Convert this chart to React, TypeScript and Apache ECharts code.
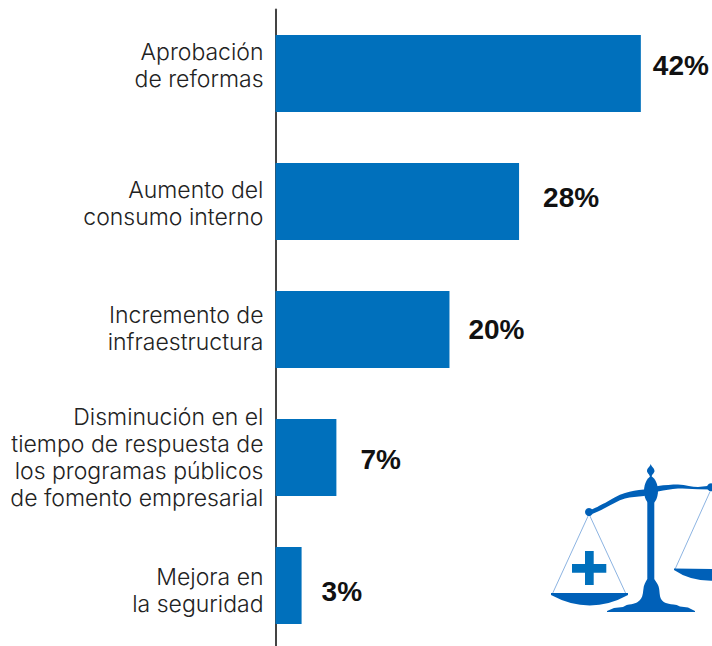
import React, { useEffect, useRef } from "react";
import * as echarts from "echarts";

const categories = [
  ["Aprobación", "de reformas"],
  ["Aumento del", "consumo interno"],
  ["Incremento de", "infraestructura"],
  ["Disminución en el", "tiempo de respuesta de", "los programas públicos", "de fomento empresarial"],
  ["Mejora en", "la seguridad"],
];
const values = [42, 28, 20, 7, 3];
const valueLabelGaps = [12, 24, 19, 24, 20];
const valueLabelShifts = [-8, -4, 0, 2, 6];
const categoryLabelShifts = [-8, 2, -1, 0, 5];

const BLUE = "#0070BC";
const SCALE_BLUE = "#0060B8";

const beam =
  "M589 510 C595 509 600 505 605 503 C612 499 618 495 625 493 C631 491 637 490 644 489.5 L658 486 C665 485 672 484.5 678 484.5 C686 485 692 487 698 487 L712 485.5 L712 489.5 L698 489.3 C690 489 684 488.5 678 488.5 C671 489 665 490 658 491.5 L644 496 C637 496.5 631 497 625 498.5 C618 500.5 612 504.5 605 508 C600 510.5 595 513.5 589 514.5 Z";
const pivot = "M651 476 C655 478 658 484 658 491 C658 498 655 503 651 505 C647 503 644 498 644 491 C644 484 647 478 651 476 Z";
const finial = "M650.7 464 C651.5 467 654.5 468 654.5 471 C654.5 473 652 474 651.5 477 L650 477 C649.5 474 647 473 647 471 C647 468 650 467 650.7 464 Z";
const stand =
  "M647.3 500 L654.3 500 L654.3 579 C656 582 659 585 659.3 590 C659.8 595 660 598 661.7 600 C664 603 668 604 676.7 605 L680 606.5 L688 607.5 L695 611 L695 612 L607 612 L607 611 L614 608 L623 607 L626.7 605 C634 604 637 603 640 600 C642 598 642.8 595 643.3 590 C643.6 585 645.6 582 647.3 579 Z";
const leftPan = "M551 593 L628 593 L628 595 Q 590 616 551 595 Z";
const rightPan = "M674 568.5 L712 569 L712 580.7 Q 690 581 674 570 Z";
const cross = "M585 551 L593.7 551 L593.7 564 L606.3 564 L606.3 572.7 L593.7 572.7 L593.7 585 L585 585 L585 572.7 L572 572.7 L572 564 L585 564 Z";

const scaleShapes: [string, string, string][] = [
  ["beamPath", beam, SCALE_BLUE],
  ["pivotPath", pivot, SCALE_BLUE],
  ["finialPath", finial, SCALE_BLUE],
  ["standPath", stand, SCALE_BLUE],
  ["leftPanPath", leftPan, SCALE_BLUE],
  ["rightPanPath", rightPan, SCALE_BLUE],
  ["crossPath", cross, BLUE],
];
scaleShapes.forEach(([name, d]) => {
  echarts.graphic.registerShape(name, (echarts.graphic as any).extendPath(d, {}));
});

const baseH = 2;
function formatCategory(_v: string, index: number) {
  const lines = categories[index];
  return lines
    .map((l, i) => {
      const pos = i === 0 ? "f" : i === lines.length - 1 ? "l" : "m";
      return `{${pos}${index}|${l}}`;
    })
    .join("\n");
}

function buildRich() {
  const rich: Record<string, any> = {};
  const common = { fontFamily: "Inter", fontWeight: 300, fontSize: 23, color: "#222222", align: "right" };
  categoryLabelShifts.forEach((s, i) => {
    const top = s > 0 ? 2 * s : 0;
    const bottom = s < 0 ? -2 * s : 0;
    rich[`f${i}`] = { ...common, padding: [baseH + top, 0, baseH, 0] };
    rich[`m${i}`] = { ...common, padding: [baseH, 0, baseH, 0] };
    rich[`l${i}`] = { ...common, padding: [baseH, 0, baseH + bottom, 0] };
  });
  return rich;
}

export default function App() {
  const ref = useRef<HTMLDivElement>(null);
  useEffect(() => {
    document.body.style.margin = "0";
    const chart = echarts.init(ref.current!, undefined, { renderer: "svg" });
    chart.setOption({
      animation: false,
      backgroundColor: "#ffffff",
      grid: { left: 275.5, top: 9.5, width: 434.5, height: 640, containLabel: false },
      xAxis: { type: "value", min: 0, max: 49.95, show: false },
      yAxis: {
        type: "category",
        inverse: true,
        data: categories.map((c) => c.join(" ")),
        axisTick: { show: false },
        axisLine: { show: true, onZero: false, lineStyle: { color: "#444444", width: 2 } },
        axisLabel: { margin: 12, formatter: formatCategory, rich: buildRich(), interval: 0 },
      },
      series: [
        {
          type: "bar",
          barWidth: 77,
          itemStyle: { color: BLUE },
          data: values.map((v, i) => ({
            value: v,
            label: {
              show: true,
              position: "right",
              distance: valueLabelGaps[i],
              offset: [0, valueLabelShifts[i]],
              formatter: "{c}%",
              fontFamily: "Liberation Sans",
              fontWeight: "bold",
              fontSize: 28,
              color: "#111111",
            },
          })),
        },
      ],
      graphic: [
        { type: "line", silent: true, shape: { x1: 589, y1: 514, x2: 552.3, y2: 594 }, style: { stroke: "#8DB4E2", lineWidth: 1 } },
        { type: "line", silent: true, shape: { x1: 589, y1: 514, x2: 626, y2: 594 }, style: { stroke: "#8DB4E2", lineWidth: 1 } },
        { type: "line", silent: true, shape: { x1: 710, y1: 491.7, x2: 675, y2: 569.3 }, style: { stroke: "#8DB4E2", lineWidth: 1 } },
        { type: "circle", silent: true, shape: { cx: 589, cy: 512, r: 4 }, style: { fill: SCALE_BLUE } },
        { type: "circle", silent: true, shape: { cx: 711, cy: 487.3, r: 4 }, style: { fill: SCALE_BLUE } },
        ...scaleShapes.map(([name, , fill]) => ({ type: name, x: 0, y: 0, silent: true, style: { fill } })),
      ],
    });
    return () => chart.dispose();
  }, []);
  return (
    <div style={{ width: 712, height: 646, overflow: "hidden" }}>
      <div ref={ref} style={{ width: 712, height: 660 }} />
    </div>
  );
}
